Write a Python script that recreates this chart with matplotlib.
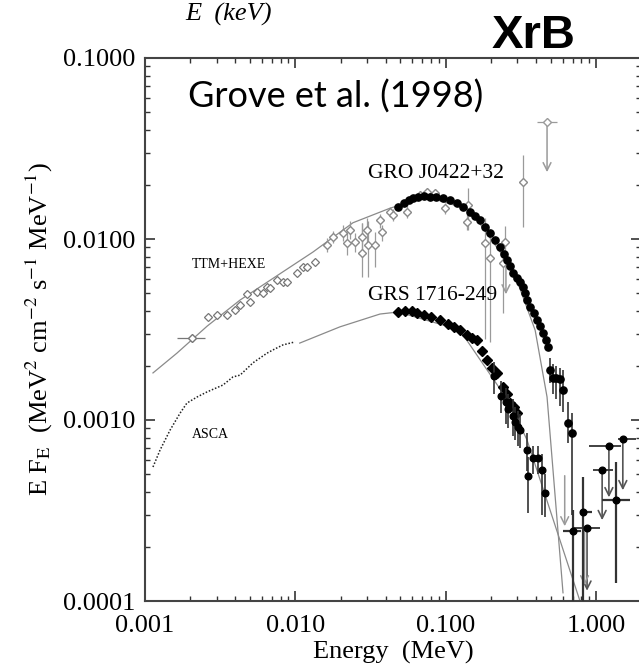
import numpy as np
import matplotlib
matplotlib.use('Agg')
import matplotlib.pyplot as plt
from matplotlib.ticker import FixedLocator, LogLocator, NullFormatter

plt.rcParams['font.family'] = ['Liberation Serif', 'DejaVu Serif']
plt.rcParams['mathtext.fontset'] = 'stix'

# ---- GRO J0422+32 : model curve
gro_model_E = [0.00113, 0.00163, 0.00259, 0.00429, 0.0131, 0.0242, 0.0427, 0.0752,
               0.145, 0.281, 0.394, 0.473, 0.604]
gro_model_F = [0.00182, 0.00234, 0.00330, 0.00460, 0.00847, 0.0123, 0.0148, 0.0171,
               0.0145, 0.00675, 0.00314, 0.00134, 0.000111]

# ---- GRS 1716-249 : model curve
grs_model_E = [0.0107, 0.0198, 0.0366, 0.0482, 0.124, 0.267, 0.348, 0.78]
grs_model_F = [0.00266, 0.00327, 0.00385, 0.00395, 0.00315, 0.00124, 0.000776, 0.000101]

# ---- ASCA (GRS 1716-249)
asca_E = [0.00113, 0.00126, 0.00147, 0.00171, 0.00190, 0.00222, 0.00259, 0.00330,
          0.00385, 0.00429, 0.00523, 0.00648, 0.00711, 0.00828, 0.00995]
asca_F = [0.000550, 0.000683, 0.000881, 0.00109, 0.00124, 0.00134, 0.00143, 0.00156,
          0.00173, 0.00177, 0.00207, 0.00234, 0.00244, 0.00260, 0.00270]

# ---- TTM+HEXE open points (GRO J0422+32)
ttm_E = [0.00262, 0.00301, 0.00351, 0.00397, 0.00429, 0.00477, 0.00500, 0.00556,
         0.00610, 0.00648, 0.00679, 0.00755, 0.00828, 0.00881, 0.0103, 0.0112,
         0.0120, 0.0135]
ttm_F = [0.00371, 0.00380, 0.00380, 0.00405, 0.00432, 0.00497, 0.00449, 0.00509,
         0.00503, 0.00543, 0.00537, 0.00593, 0.00578, 0.00578, 0.00649, 0.00700,
         0.00700, 0.00746]
ttm_lone_E = [0.00206]
ttm_lone_F = [0.00284]
ttm_lone_Elo = [0.00163]
ttm_lone_Ehi = [0.00251]

# ---- open points with error bars (GRO J0422+32)
open_E = [0.0163, 0.0178, 0.0208, 0.0221, 0.0231, 0.0250, 0.0278, 0.0278, 0.0300,
          0.0305, 0.0339, 0.0366, 0.0378, 0.0427, 0.0447, 0.0553, 0.0676, 0.0752,
          0.0850, 0.0991, 0.141, 0.139, 0.183, 0.197, 0.248, 0.241, 0.327]
open_F = [0.00927, 0.0103, 0.0108, 0.0095, 0.0112, 0.00962, 0.0103, 0.00837, 0.0112,
          0.00927, 0.00927, 0.0127, 0.0109, 0.0141, 0.0136, 0.0141, 0.0175, 0.0182,
          0.0180, 0.0148, 0.0154, 0.0124, 0.0095, 0.00785, 0.00962, 0.00737, 0.0206]
open_Flo = [0.0085, 0.0095, 0.0098, 0.0082, 0.0100, 0.0085, 0.0080, 0.00617, 0.0090,
            0.0062, 0.0070, 0.0115, 0.0098, 0.0132, 0.0125, 0.0130, 0.0165, 0.0172,
            0.0170, 0.0138, 0.0112, 0.0112, 0.0028, 0.0027, 0.0075, 0.0039, 0.0116]
open_Fhi = [0.0101, 0.0111, 0.0119, 0.0110, 0.0126, 0.0108, 0.0123, 0.0123, 0.0130,
            0.0125, 0.0110, 0.0138, 0.0120, 0.0150, 0.0146, 0.0152, 0.0185, 0.0192,
            0.0190, 0.0158, 0.0191, 0.0137, 0.0130, 0.0110, 0.0118, 0.0095, 0.0291]

# ---- GRO J0422+32 filled circles
gro_E = [0.0482, 0.0530, 0.0570, 0.0607, 0.0660, 0.0720, 0.0787, 0.0860, 0.0961,
         0.107, 0.119, 0.131, 0.145, 0.157, 0.169, 0.183, 0.197, 0.213, 0.230,
         0.243, 0.256, 0.268, 0.281, 0.297, 0.313, 0.325, 0.337, 0.350, 0.365,
         0.385, 0.406, 0.425, 0.445, 0.462, 0.480]
gro_F = [0.0150, 0.0158, 0.0164, 0.0169, 0.0171, 0.0172, 0.0171, 0.0171, 0.0169,
         0.0164, 0.0158, 0.0150, 0.0141, 0.0134, 0.0127, 0.0117, 0.0108, 0.00990,
         0.00903, 0.00830, 0.00766, 0.00705, 0.00649, 0.00610, 0.00578, 0.00540,
         0.00503, 0.00460, 0.00421, 0.00390, 0.00357, 0.00330, 0.00303, 0.00278,
         0.00253]
gro_hi_E = [0.495, 0.519, 0.545, 0.575, 0.604, 0.652, 0.693]
gro_hi_F = [0.00189, 0.00171, 0.00170, 0.00168, 0.00147, 0.000962, 0.000848]
gro_hi_Flo = [0.00160, 0.00140, 0.00130, 0.00120, 0.00111, 0.00075, 0.00030]
gro_hi_Fhi = [0.00220, 0.00205, 0.00200, 0.00195, 0.00189, 0.00125, 0.00110]

# ---- GRS 1716-249 filled points
grs_E = [0.0482, 0.0540, 0.0600, 0.0646, 0.0720, 0.0800, 0.0918, 0.103, 0.113,
         0.125, 0.138, 0.150, 0.162, 0.175, 0.188, 0.205, 0.220, 0.241, 0.255,
         0.268, 0.285, 0.298]
grs_F = [0.00395, 0.00400, 0.00398, 0.00390, 0.00382, 0.00372, 0.00356, 0.00340,
         0.00328, 0.00314, 0.00296, 0.00285, 0.00277, 0.00240, 0.00214, 0.00195,
         0.00182, 0.00152, 0.00140, 0.00124, 0.00118, 0.00109]
grs_lo_E = [0.210, 0.232, 0.252, 0.262, 0.280, 0.290, 0.305, 0.313, 0.348, 0.354,
            0.381, 0.412, 0.438, 0.459]
grs_lo_F = [0.00175, 0.00135, 0.00125, 0.00115, 0.00105, 0.00098, 0.00092, 0.000881,
            0.000682, 0.000491, 0.000617, 0.000617, 0.000530, 0.000395]
grs_lo_Flo = [0.00140, 0.00110, 0.00095, 0.00090, 0.00082, 0.00078, 0.00072, 0.00070,
              0.00052, 0.000306, 0.00050, 0.00050, 0.000300, 0.000291]
grs_lo_Fhi = [0.00210, 0.00165, 0.00150, 0.00140, 0.00130, 0.00118, 0.00112, 0.00108,
              0.00085, 0.000625, 0.00072, 0.00072, 0.00065, 0.00050]

# ---- high energy points (dark, with bars)
hi_E = [0.82, 0.70, 1.36]
hi_F = [0.000310, 0.000244, 0.000361]
hi_Elo = [0.78, 0.60, 1.10]
hi_Ehi = [0.94, 0.80, 1.68]
hi_Flo = [0.00009, 0.00009, 0.000126]
hi_Fhi = [0.000486, 0.00032, 0.000586]

# ---- upper limits (dark)
ul_E = [0.873, 1.10, 1.22, 1.51]
ul_F = [0.000253, 0.000530, 0.000718, 0.000785]
ul_Fend = [0.000110, 0.000270, 0.000361, 0.000395]
ul_Elo = [0.71, 0.95, 0.90, 1.40]
ul_Ehi = [1.06, 1.30, 1.46, 1.85]

# ---- upper limits (gray)
gul_E = [0.473, 0.252, 0.62, 0.84]
gul_F = [0.0443, 0.00737, 0.00051, 0.00025]
gul_Fend = [0.0226, 0.00478, 0.00025, 0.000118]

xticks = [0.001, 0.01, 0.1, 1.0]
xtick_labels = ['0.001', '0.010', '0.100', '1.000']
yticks = [0.0001, 0.001, 0.01, 0.1]
ytick_labels = ['0.0001', '0.0010', '0.0100', '0.1000']

W, H = 639, 672
fig = plt.figure(figsize=(W / 100, H / 100), dpi=100)
ax = fig.add_axes([145 / W, 71 / H, 496 / W, 543 / H])
ax.set_xscale('log')
ax.set_yscale('log')
ax.set_xlim(0.001, 1.995)
ax.set_ylim(0.0001, 0.1)

gray = '#8a8a8a'
ax.plot(gro_model_E, gro_model_F, color=gray, lw=0.9, zorder=2)
ax.plot(grs_model_E, grs_model_F, color=gray, lw=0.9, zorder=2)
ax.plot(asca_E, asca_F, color='#222222', lw=1.1, ls=(0, (1, 1.2)), zorder=3)

ax.plot(ttm_E, ttm_F, ls='none', marker='D', ms=4.2, mfc='white', mec='#777777',
        mew=0.9, zorder=3)
ax.errorbar(ttm_lone_E, ttm_lone_F,
            xerr=[np.subtract(ttm_lone_E, ttm_lone_Elo), np.subtract(ttm_lone_Ehi, ttm_lone_E)],
            fmt='D', ms=4.2, mfc='white', mec='#777777', ecolor='#777777', elinewidth=0.9,
            capsize=0, zorder=3)
ax.errorbar(open_E, open_F,
            yerr=[np.subtract(open_F, open_Flo), np.subtract(open_Fhi, open_F)],
            xerr=[np.multiply(open_E, 0.06), np.multiply(open_E, 0.06)],
            fmt='D', ms=4.2, mfc='white', mec='#8a8a8a', ecolor='#9a9a9a', elinewidth=0.9,
            capsize=0, zorder=3)

ax.plot(gro_E, gro_F, ls='none', marker='o', ms=5.2, color='black', zorder=5)
ax.errorbar(gro_hi_E, gro_hi_F,
            yerr=[np.subtract(gro_hi_F, gro_hi_Flo), np.subtract(gro_hi_Fhi, gro_hi_F)],
            fmt='o', ms=5.2, color='black', ecolor='#333333', elinewidth=1.2, capsize=0,
            zorder=5)
ax.plot(grs_E, grs_F, ls='none', marker='D', ms=4.6, color='black', zorder=5)
ax.errorbar(grs_lo_E, grs_lo_F,
            yerr=[np.subtract(grs_lo_F, grs_lo_Flo), np.subtract(grs_lo_Fhi, grs_lo_F)],
            fmt='o', ms=4.8, color='black', ecolor='#333333', elinewidth=1.2, capsize=0,
            zorder=5)
ax.errorbar(hi_E, hi_F,
            yerr=[np.subtract(hi_F, hi_Flo), np.subtract(hi_Fhi, hi_F)],
            xerr=[np.subtract(hi_E, hi_Elo), np.subtract(hi_Ehi, hi_E)],
            fmt='o', ms=4.8, color='black', ecolor='#333333', elinewidth=1.6, capsize=0,
            zorder=5)
ax.errorbar(ul_E, ul_F,
            xerr=[np.subtract(ul_E, ul_Elo), np.subtract(ul_Ehi, ul_E)],
            fmt='o', ms=4.8, color='black', ecolor='#333333', elinewidth=1.3, capsize=0,
            zorder=5)
for e, f0, f1 in zip(ul_E, ul_F, ul_Fend):
    ax.annotate('', xy=(e, f1), xytext=(e, f0),
                arrowprops=dict(arrowstyle='->', color='#555555', lw=1.2,
                                mutation_scale=14), zorder=4)
for e, f0, f1 in zip(gul_E, gul_F, gul_Fend):
    ax.annotate('', xy=(e, f1), xytext=(e, f0),
                arrowprops=dict(arrowstyle='->', color='#9a9a9a', lw=1.1,
                                mutation_scale=14), zorder=4)
ax.errorbar([gul_E[0]], [gul_F[0]], xerr=[[0.068], [0.078]], fmt='D', ms=4, mfc='white',
            mec='#9a9a9a', ecolor='#9a9a9a', elinewidth=0.9, capsize=0, zorder=4)

# axes styling
ax.xaxis.set_major_locator(FixedLocator(xticks))
ax.set_xticklabels(xtick_labels)
ax.yaxis.set_major_locator(FixedLocator(yticks))
ax.set_yticklabels(ytick_labels)
ax.xaxis.set_minor_locator(LogLocator(base=10, subs=np.arange(2, 10)))
ax.yaxis.set_minor_locator(LogLocator(base=10, subs=np.arange(2, 10)))
ax.xaxis.set_minor_formatter(NullFormatter())
ax.yaxis.set_minor_formatter(NullFormatter())
ax.tick_params(which='both', direction='in', top=True, right=True, colors='#333333',
               labelcolor='black', labelsize=19)
ax.tick_params(which='major', length=7, width=1.2)
ax.tick_params(which='minor', length=3.5, width=1.0)
ax.tick_params(axis='x', pad=10)
ax.tick_params(axis='y', pad=7)
for s in ax.spines.values():
    s.set_linewidth(1.5)
    s.set_color('#444444')

ax.set_xlabel('Energy  (MeV)', fontsize=19, labelpad=3)
ax.set_ylabel(r'E F$_{\rm E}$  (MeV$^2$ cm$^{-2}$ s$^{-1}$ MeV$^{-1}$)', fontsize=19,
              labelpad=6)


def px(x, y):
    return x / W, 1 - y / H


fig.text(*px(368, 178), 'GRO J0422+32', fontsize=15.5)
fig.text(*px(368, 300), 'GRS 1716-249', fontsize=15.5)
fig.text(*px(192, 268), 'TTM+HEXE', fontsize=10)
fig.text(*px(192, 438), 'ASCA', fontsize=10)
fig.text(*px(185, 21), 'E  (keV)', fontsize=19, fontstyle='italic')
fig.text(*px(492, 48), 'XrB', fontsize=34, fontweight='bold',
         family=['Liberation Sans', 'DejaVu Sans'])
fig.text(*px(188, 108), 'Grove et al. (1998)', fontsize=26,
         family=['Lato', 'DejaVu Sans'])

fig.savefig('out.png', dpi=100)
